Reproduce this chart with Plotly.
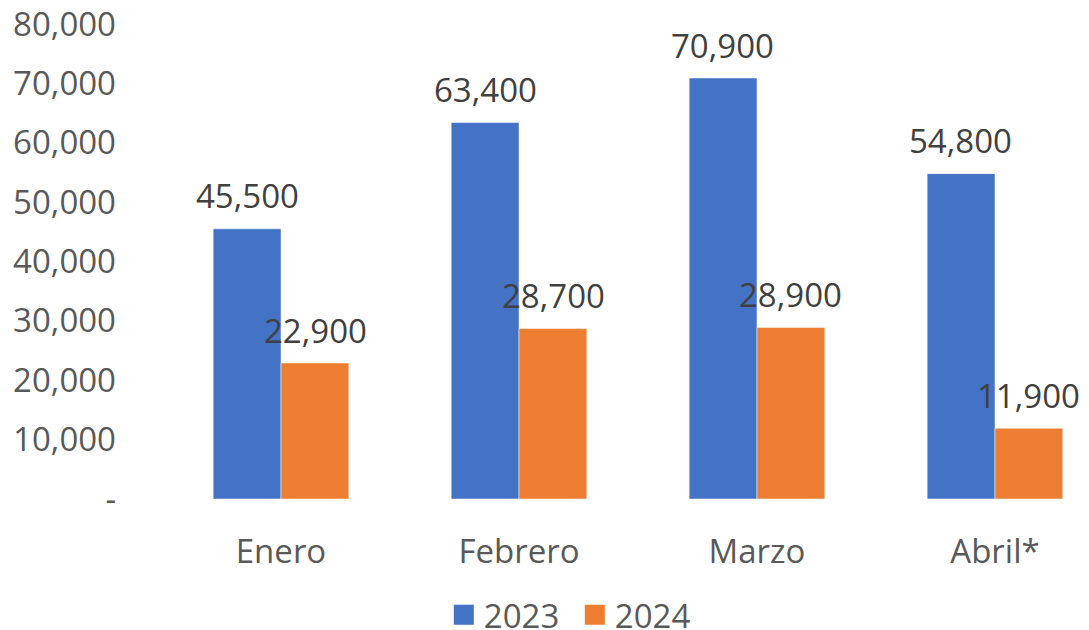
import plotly.graph_objects as go

meses = ["Enero", "Febrero", "Marzo", "Abril*"]
valores_2023 = [45500, 63400, 70900, 54800]
valores_2024 = [22900, 28700, 28900, 11900]
y_ticks = [0, 10000, 20000, 30000, 40000, 50000, 60000, 70000, 80000]
y_tick_text = ["-", "10,000", "20,000", "30,000", "40,000", "50,000", "60,000", "70,000", "80,000"]

FONT = "Open Sans"
SIZE = 33

fig = go.Figure()

series = [("2023", valores_2023, "#4472C4", -34), ("2024", valores_2024, "#ED7D31", 34)]

for name, vals, color, dx in series:
    fig.add_trace(go.Bar(
        x=meses,
        y=vals,
        name=name,
        marker=dict(color=color, line=dict(color="white", width=0.5)),
        showlegend=False,
    ))
    # etiquetas de datos, un poco por encima de cada barra
    for m, v in zip(meses, vals):
        fig.add_annotation(
            x=m, y=v, xshift=dx, yshift=33,
            text=f"{v:,}",
            showarrow=False,
            yanchor="middle",
            font=dict(size=SIZE, color="#404040", family=FONT),
        )
    # entrada de leyenda con cuadrado más grande
    fig.add_trace(go.Scatter(
        x=[None], y=[None],
        mode="markers",
        name=name,
        marker=dict(symbol="square", size=16, color=color, line=dict(color=color, width=4)),
    ))

# la página tiene 8px de margen en el body, se compensa aquí
fig.update_layout(
    width=1081,
    height=622,
    barmode="group",
    bargap=0.43,
    bargroupgap=0,
    plot_bgcolor="white",
    paper_bgcolor="white",
    margin=dict(l=154, r=0, t=16, b=131, autoexpand=False),
    font=dict(family=FONT, size=SIZE, color="#595959"),
    xaxis=dict(
        range=[-0.5, 3.395],
        showline=False,
        showgrid=False,
        ticks="",
        automargin=False,
        ticklabelstandoff=30,
        ticklabeloverflow="allow",
        tickfont=dict(size=SIZE, color="#595959"),
    ),
    yaxis=dict(
        range=[0, 80000],
        tickvals=y_ticks,
        ticktext=y_tick_text,
        showgrid=False,
        zeroline=False,
        showline=False,
        ticks="",
        automargin=False,
        ticklabelstandoff=45,
        ticklabeloverflow="allow",
        tickfont=dict(size=SIZE, color="#595959"),
    ),
    legend=dict(
        orientation="h",
        x=0.304,
        xanchor="left",
        y=-0.244,
        yanchor="middle",
        entrywidth=86,
        font=dict(size=SIZE, color="#595959"),
    ),
)

fig.write_html("out.html")
